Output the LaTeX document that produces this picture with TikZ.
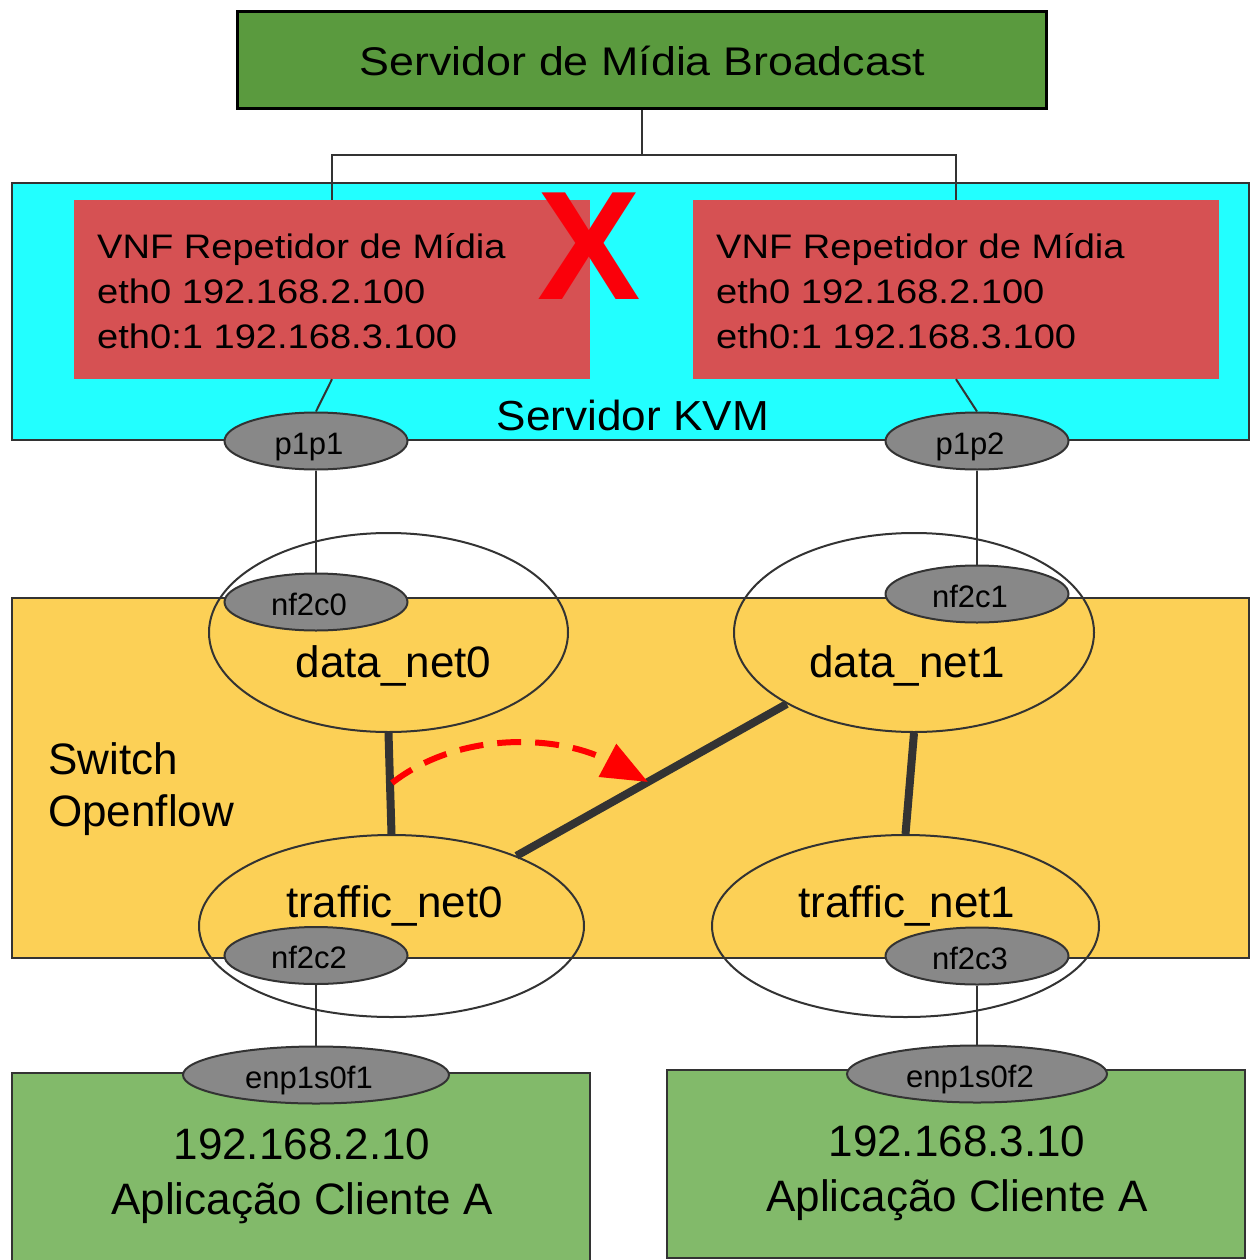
\documentclass[tikz,border=0pt]{standalone}
\usepackage{fontspec}
\setmainfont{Liberation Sans}
\newfontfamily\widefont[FakeStretch=1.12]{Liberation Sans}
\newfontfamily\kvmfont[FakeStretch=1.05]{Liberation Sans}
\newfontfamily\boldfont{Liberation Sans Bold}
\usetikzlibrary{shapes.geometric,arrows.meta}

\pgfdeclarelayer{boxes}
\pgfdeclarelayer{wires}
\pgfsetlayers{boxes,wires,main}

\definecolor{srvgreen}{RGB}{90,154,62}
\definecolor{cligreen}{RGB}{130,186,106}
\definecolor{vnfred}{RGB}{214,81,83}
\definecolor{kvmcyan}{RGB}{34,255,255}
\definecolor{swyellow}{RGB}{252,208,86}
\definecolor{portgray}{RGB}{136,136,136}
\definecolor{linegray}{RGB}{51,51,51}
\definecolor{failred}{RGB}{250,0,10}
\definecolor{flowred}{RGB}{255,0,0}

\begin{document}
\begin{tikzpicture}[x=1pt,y=-1pt,
  panel/.style={rectangle, inner sep=0pt, draw=linegray, line width=2pt},
  vnfbox/.style={rectangle, inner sep=0pt, fill=vnfred, minimum height=179pt},
  vnftext/.style={anchor=base west, inner sep=0pt, font=\widefont\fontsize{34}{40}\selectfont},
  clitext/.style={anchor=base, inner sep=0pt, font=\fontsize{44}{52}\selectfont},
  port/.style={ellipse, inner sep=0pt, minimum width=183pt, minimum height=57pt,
    fill=portgray, draw=linegray, line width=2pt, font=\fontsize{31}{36}\selectfont,
    text height=26pt, text depth=0pt, execute at end node={\kern14pt}},
  netzone/.style={ellipse, inner sep=0pt, draw=linegray, line width=2pt},
  netlabel/.style={anchor=base, inner sep=0pt, font=\fontsize{44}{52}\selectfont},
  wire/.style={draw=linegray, line width=2pt},
  trunk/.style={draw=linegray, line width=8pt},
  redflow/.style={draw=flowred, line width=6pt, dash pattern=on 24pt off 14pt,
    -{Triangle[length=46pt,width=36pt]}},
]
\useasboundingbox (0,0) rectangle (1254,1260);

% ---- filled panels ----
\begin{pgfonlayer}{boxes}
  \node[panel, draw=black, line width=3pt, fill=srvgreen,
        minimum width=809pt, minimum height=97pt] (srv) at (641.5,60.5) {};
  \node[panel, fill=kvmcyan, minimum width=1237pt, minimum height=257pt] (kvm) at (630.5,311.5) {};
  \node[vnfbox, minimum width=516pt] (vnfA) at (332,289.5) {};
  \node[vnfbox, minimum width=526pt] (vnfB) at (956,289.5) {};
  \node[panel, fill=swyellow, minimum width=1237pt, minimum height=360pt] (sw) at (630.5,778) {};
  \node[panel, fill=cligreen, minimum width=578pt, minimum height=194pt] (cliA) at (301,1170) {};
  \node[panel, fill=cligreen, minimum width=578pt, minimum height=188pt] (cliB) at (956,1164) {};
\end{pgfonlayer}

% ---- panel texts ----
\node[anchor=base, inner sep=0pt, font=\widefont\fontsize{40}{48}\selectfont]
  (srvtxt) at (642.5,76) {Servidor de Mídia Broadcast};
\node[anchor=base, inner sep=0pt, font=\kvmfont\fontsize{42}{50}\selectfont]
  (kvmtxt) at (633,430) {Servidor KVM};

\node[vnftext] (vnfA1) at (97,258) {VNF Repetidor de Mídia};
\node[vnftext] (vnfA2) at (97,303) {eth0 192.168.2.100};
\node[vnftext] (vnfA3) at (97,348) {eth0:1 192.168.3.100};
\node[vnftext] (vnfB1) at (716,258) {VNF Repetidor de Mídia};
\node[vnftext] (vnfB2) at (716,303) {eth0 192.168.2.100};
\node[vnftext] (vnfB3) at (716,348) {eth0:1 192.168.3.100};

% failed repeater mark
\node[inner sep=0pt, text=failred, font=\boldfont\fontsize{155}{160}\selectfont]
  (fail) at (589,246.5) {X};

\node[anchor=base west, inner sep=0pt, font=\fontsize{44}{52}\selectfont]
  (swtxt1) at (48,774) {Switch};
\node[anchor=base west, inner sep=0pt, font=\fontsize{44}{52}\selectfont]
  (swtxt2) at (48,826) {Openflow};

\node[clitext] (cliA1) at (302,1159) {192.168.2.10};
\node[clitext] (cliA2) at (302,1214) {Aplicação Cliente A};
\node[clitext] (cliB1) at (957,1156) {192.168.3.10};
\node[clitext] (cliB2) at (957,1211) {Aplicação Cliente A};

% ---- interfaces ----
\node[port] (p1p1) at (316,441) {p1p1};
\node[port] (p1p2) at (977,441) {p1p2};
\node[port] (nf2c0) at (316,602) {nf2c0};
\node[port] (nf2c1) at (977,594) {nf2c1};
\node[port] (nf2c2) at (316,955.5) {nf2c2};
\node[port] (nf2c3) at (977,956) {nf2c3};
\node[port, minimum width=266pt] (enpA) at (316,1075) {enp1s0f1};
\node[port, minimum width=260pt] (enpB) at (977,1074) {enp1s0f2};

% ---- switch networks ----
\node[netzone, minimum width=359pt, minimum height=199pt] (dn0) at (388.5,632.5) {};
\node[netzone, minimum width=360pt, minimum height=199pt] (dn1) at (914,632.5) {};
\node[netzone, minimum width=385pt, minimum height=182pt] (tn0) at (391.5,926) {};
\node[netzone, minimum width=387pt, minimum height=182pt] (tn1) at (905.5,926) {};
\node[netlabel] (dn0txt) at (393.5,677) {data\_net0};
\node[netlabel] (dn1txt) at (907,677) {data\_net1};
\node[netlabel] (tn0txt) at (394.5,917) {traffic\_net0};
\node[netlabel] (tn1txt) at (907,917) {traffic\_net1};

\draw[trunk] (dn0.south) -- (tn0.north);
\draw[trunk] (dn1) -- (tn0);
\draw[trunk] (dn1.south) -- (tn1.north);

% redirected flow
\coordinate (flowstart) at (392,783);
\coordinate (flowend) at (648,782);
\draw[redflow] (flowstart) .. controls (460,730) and (560,735) .. (flowend);

% ---- cabling ----
\coordinate (hub) at (641.5,155);
\begin{pgfonlayer}{wires}
  \draw[wire] (srv.south) -- (hub);
  \draw[wire] (vnfA.north) |- (hub) -| (vnfB.north);
  \draw[wire] (vnfA.south) -- (p1p1.north);
  \draw[wire] (vnfB.south) -- (p1p2.north);
  \draw[wire] (p1p1.south) -- (nf2c0.north);
  \draw[wire] (p1p2.south) -- (nf2c1.north);
  \draw[wire] (nf2c2.south) -- (enpA.north);
  \draw[wire] (nf2c3.south) -- (enpB.north);
\end{pgfonlayer}
\end{tikzpicture}
\end{document}
